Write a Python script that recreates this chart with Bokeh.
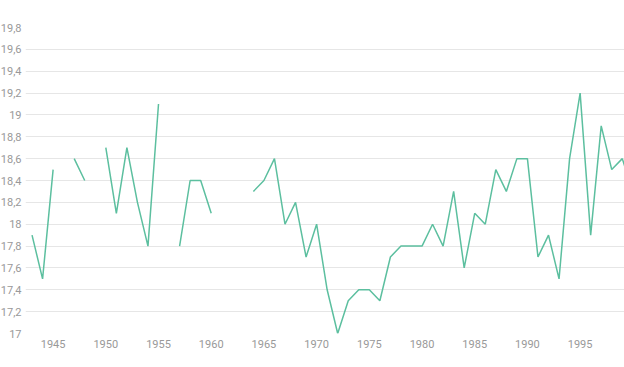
import numpy as np
from bokeh.plotting import figure
from bokeh.models import FixedTicker, CustomJSTickFormatter, Range1d
from bokeh.embed import file_html
from bokeh.resources import INLINE

nan = float("nan")
years = list(range(1943, 2001))
values = [
    17.9, 17.5, 18.5, nan, 18.6, 18.4, nan,            # 1943-1949
    18.7, 18.1, 18.7, 18.2, 17.8, 19.1, nan, 17.8, 18.4, 18.4,  # 1950-1959
    18.1, nan, nan, nan, 18.3, 18.4, 18.6, 18.0, 18.2, 17.7,    # 1960-1969
    18.0, 17.4, 17.0, 17.3, 17.4, 17.4, 17.3, 17.7, 17.8, 17.8, # 1970-1979
    17.8, 18.0, 17.8, 18.3, 17.6, 18.1, 18.0, 18.5, 18.3, 18.6, # 1980-1989
    18.6, 17.7, 17.9, 17.5, 18.6, 19.2, 17.9, 18.9, 18.5, 18.6, # 1990-1999
    18.3,                                                        # 2000
]
y_ticks = [17.0, 17.2, 17.4, 17.6, 17.8, 18.0, 18.2, 18.4, 18.6, 18.8,
           19.0, 19.2, 19.4, 19.6, 19.8]
x_ticks = [1945, 1950, 1955, 1960, 1965, 1970, 1975, 1980, 1985, 1990, 1995, 2000]

p = figure(width=627, height=367, output_backend="svg", toolbar_location=None,
           x_range=Range1d(1942.38, 1999.21), y_range=Range1d(17.0, 19.8),
           min_border_left=0, min_border_right=0, min_border_top=27,
           min_border_bottom=34,
           styles={"position": "absolute", "left": "-3px", "top": "0px"})
p.outline_line_color = None
p.background_fill_color = "white"
p.border_fill_color = "white"

p.line(years, values, line_color="#5cbf9f", line_width=1.5)

for ax in (p.xaxis[0], p.yaxis[0]):
    ax.axis_line_color = None
    ax.major_tick_line_color = None
    ax.minor_tick_line_color = None
    ax.major_tick_out = 0
    ax.major_tick_in = 0
    ax.minor_tick_out = 0
    ax.minor_tick_in = 0
    ax.major_label_text_color = "#999999"
    ax.major_label_text_font = "Roboto"
    ax.major_label_text_font_size = "11px"

p.yaxis[0].ticker = FixedTicker(ticks=y_ticks)
p.yaxis[0].formatter = CustomJSTickFormatter(
    code="return String(Number(tick.toFixed(1))).replace('.', ',');")
p.yaxis[0].major_label_standoff = 4
p.xaxis[0].ticker = FixedTicker(ticks=x_ticks)
p.xaxis[0].major_label_standoff = 6

p.xgrid.grid_line_color = None
p.ygrid.grid_line_color = "#e6e6e6"
p.ygrid.ticker = FixedTicker(ticks=y_ticks)

open("out.html", "w").write(file_html(p, INLINE))
